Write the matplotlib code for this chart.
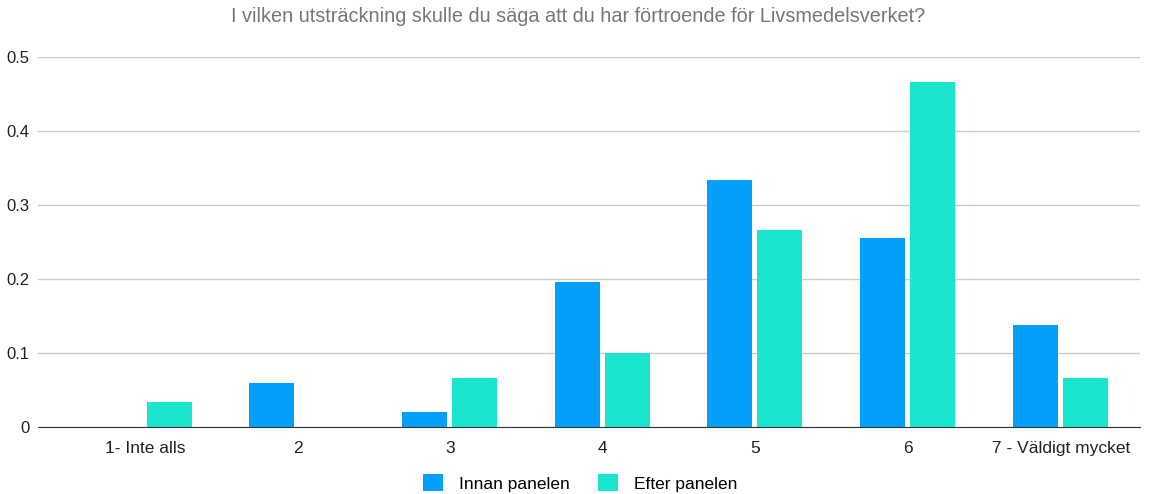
import matplotlib.pyplot as plt
import numpy as np

# data (share of respondents)
categories = ["1- Inte alls", "2", "3", "4", "5", "6", "7 - Väldigt mycket"]
innan = [0.0, 3/51, 1/51, 10/51, 17/51, 13/51, 7/51]
efter = [1/30, 0.0, 2/30, 3/30, 8/30, 14/30, 2/30]
series_names = ["Innan panelen", "Efter panelen"]
colors = ["#049ffb", "#1ae6cf"]
title = "I vilken utsträckning skulle du säga att du har förtroende för Livsmedelsverket?"

plt.rcParams['font.family'] = ['Liberation Sans', 'DejaVu Sans']

fig = plt.figure(figsize=(11.56, 4.94), dpi=100)
ax = fig.add_axes([38/1156, 1 - 427/494, (1140 - 38)/1156, (427 - 57)/494])

x = np.arange(len(categories))
w = 0.295
ax.bar(x - 0.167, innan, w, color=colors[0], label=series_names[0], zorder=3)
ax.bar(x + 0.16, efter, w, color=colors[1], label=series_names[1], zorder=3)

ax.set_xlim(-0.70, 6.52)
ax.set_ylim(0, 0.5)
ax.set_yticks([0, 0.1, 0.2, 0.3, 0.4, 0.5])
ax.set_yticklabels(["0", "0.1", "0.2", "0.3", "0.4", "0.5"])
ax.set_xticks(x)
ax.set_xticklabels(categories)
ax.grid(axis='y', color='#cccccc', linewidth=1, zorder=0)
for s in ['top', 'right', 'left']:
    ax.spines[s].set_visible(False)
ax.spines['bottom'].set_color('#333333')
ax.spines['bottom'].set_zorder(4)
ax.tick_params(axis='both', length=0, labelsize=12.5, colors='#222222')
ax.tick_params(axis='y', labelsize=12, pad=6)
ax.tick_params(axis='x', pad=10)

fig.text(0.5, 1 - 17/494, title, ha='center', va='center', fontsize=14.3, color='#777777')

fig.legend(loc='center', bbox_to_anchor=(0.502, 1 - 483/494), ncol=2, frameon=False,
           fontsize=12.5, handlelength=1.15, handleheight=1.15, columnspacing=1.6,
           handletextpad=0.92)

fig.savefig("out.png", dpi=100)
